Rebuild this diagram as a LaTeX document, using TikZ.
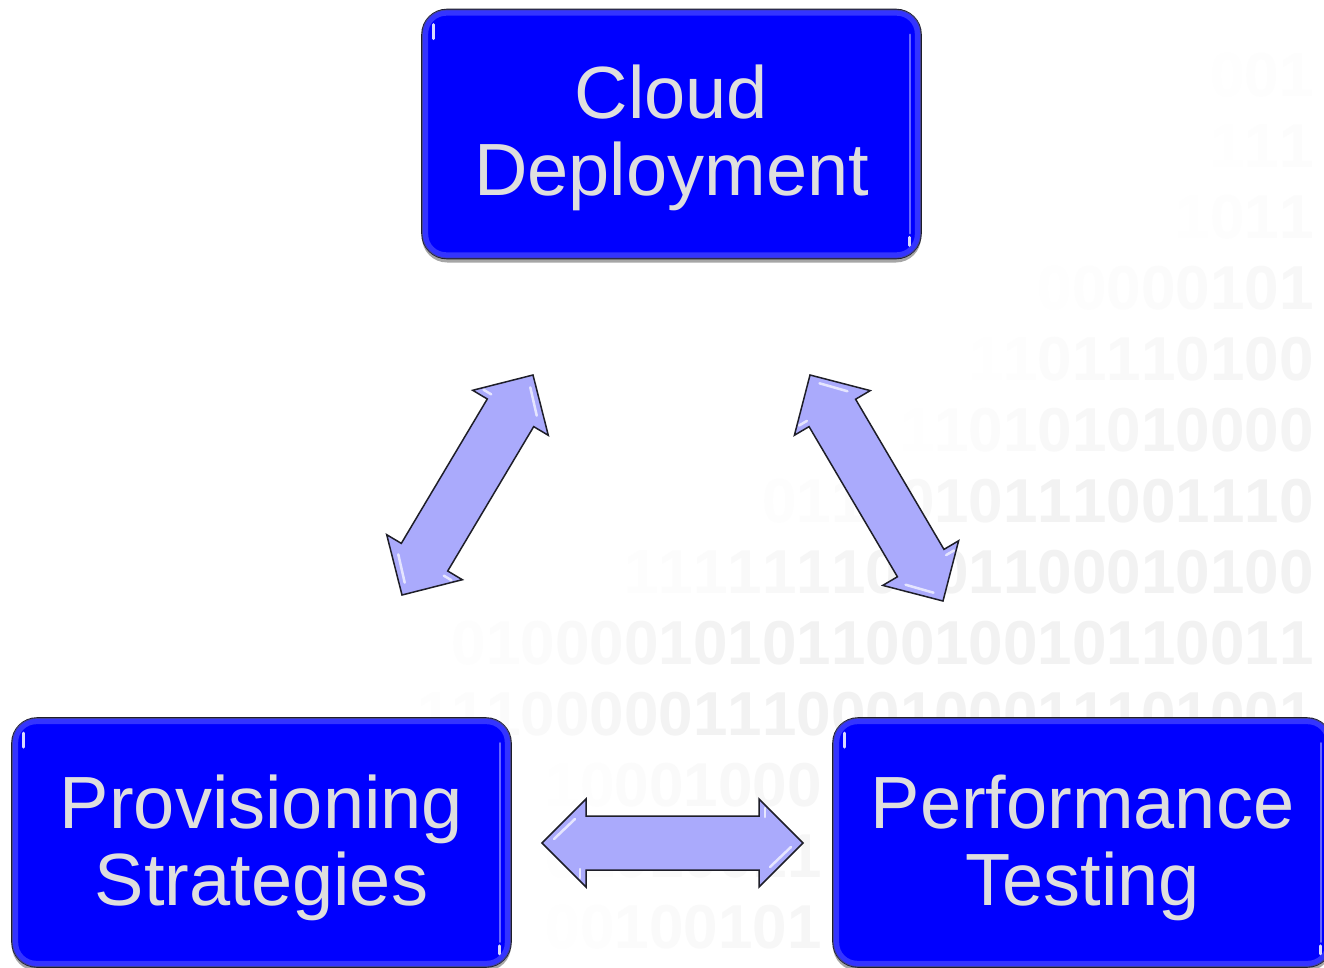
\documentclass[tikz,border=0pt]{standalone}
\usepackage{fontspec}
\setmainfont{Liberation Sans}
\usetikzlibrary{calc,shadows}

\definecolor{boxblue}{RGB}{0,0,255}
\definecolor{bevelblue}{RGB}{95,95,255}
\definecolor{labelgray}{RGB}{222,222,222}
\definecolor{arrowfill}{RGB}{170,170,252}
\definecolor{edgegray}{RGB}{30,30,40}

\tikzset{
  stagebox/.style={rectangle, rounded corners=25pt, fill=boxblue, draw=edgegray,
    line width=1.6pt, minimum width=499pt, minimum height=249pt, inner sep=0pt,
    drop shadow={shadow xshift=0pt, shadow yshift=-4pt, opacity=0.35, fill=black}},
  stagelabel/.style={inner sep=0pt, text=labelgray, align=center,
    font=\fontsize{74}{77}\selectfont},
  bevel/.style={draw=bevelblue, line width=6pt, rounded corners=21pt, opacity=0.55},
  gloss/.style={draw=white, line width=3pt, line cap=round, opacity=0.85},
  softgloss/.style={draw=white, line width=2.5pt, line cap=round, opacity=0.4},
  blockarrow/.style={fill=arrowfill, draw=edgegray, line width=1.5pt, line join=miter},
  arrowgloss/.style={draw=white, line width=2.5pt, line cap=round, opacity=0.7},
  binrow/.style={inner sep=0pt, anchor=east, font=\fontsize{62}{62}\selectfont\bfseries},
}

% a row of #1 binary digits whose grey deepens from left to right up to black!#2
\newcommand\binrow[2]{%
  \foreach \k in {1,...,#1}{%
    \pgfmathtruncatemacro\dg{random(0,1)}%
    \pgfmathsetmacro\lv{#2*min(1,\k*35/300)}%
    \textcolor{black!\lv}{\dg}}}

% glossy bevel and highlights of a stage box
\newcommand\boxgloss[1]{%
  \draw[bevel] ([shift={(4,4)}]#1.north west) rectangle ([shift={(-4,-4)}]#1.south east);
  \draw[gloss] ([shift={(12,16)}]#1.north west) -- ([shift={(12,30)}]#1.north west);
  \draw[softgloss] ([shift={(-12,26)}]#1.north east) -- ([shift={(-12,-26)}]#1.south east);
  \draw[gloss] ([shift={(-12,-22)}]#1.south east) -- ([shift={(-12,-14)}]#1.south east);
}

% highlights on an arrow head (tip #1, pointing away from #2)
\newcommand\headgloss[2]{%
  \draw[arrowgloss] ($($(#1)!12pt!(#2)$)!4pt!90:(#2)$) -- ($($(#1)!33pt!(#2)$)!24pt!90:(#2)$);
  \draw[arrowgloss] ($($(#1)!38pt!(#2)$)!26pt!-90:(#2)$) -- ($($(#1)!38pt!(#2)$)!35pt!-90:(#2)$);
}

% double-headed block arrow between two named points (#3: prefix for helper points)
\newcommand\dblarrow[3]{%
  \coordinate (#3h1) at ($(#1)!44pt!(#2)$);
  \coordinate (#3h2) at ($(#2)!44pt!(#1)$);
  \draw[blockarrow] (#1)
    -- ($(#3h1)!44pt!90:(#2)$) -- ($(#3h1)!27pt!90:(#2)$)
    -- ($(#3h2)!27pt!90:(#2)$) -- ($(#3h2)!44pt!90:(#2)$)
    -- (#2)
    -- ($(#3h2)!44pt!-90:(#2)$) -- ($(#3h2)!27pt!-90:(#2)$)
    -- ($(#3h1)!27pt!-90:(#2)$) -- ($(#3h1)!44pt!-90:(#2)$)
    -- cycle;
  \headgloss{#1}{#2}
  \headgloss{#2}{#1}
}

\begin{document}
\begin{tikzpicture}[x=1pt, y=-1pt]
  \useasboundingbox (0,0) rectangle (1324,968);
  \fill[white] (0,0) rectangle (1324,968);

  % faint binary texture on the right, fading out towards the left
  \pgfmathsetseed{42}
  \foreach \yy/\xe/\n/\b in {75/1314/3/2.5, 146/1314/3/3, 217/1314/4/3,
      288/1314/8/3.5, 359/1314/10/4, 430/1314/12/4.5, 501/1314/16/5,
      572/1314/20/5, 643/1314/25/5, 714/1314/26/5,
      785/822/8/4, 856/822/8/4, 927/822/8/4} {
    \node[binrow] (bin-\yy) at (\xe,\yy) {\binrow{\n}{\b}};
  }

  % stages
  \node[stagebox] (cloud) at (671.5,134) {};
  \node[stagebox] (prov) at (261.5,842.5) {};
  \node[stagebox] (perf) at (1082.5,842.5) {};
  \boxgloss{cloud}
  \boxgloss{prov}
  \boxgloss{perf}
  \node[stagelabel] (cloud-text) at ([shift={(0,4)}]cloud.center) {Cloud\\Deployment};
  \node[stagelabel] (prov-text) at ([shift={(0,5)}]prov.center) {Provisioning\\Strategies};
  \node[stagelabel] (perf-text) at ([shift={(0,5)}]perf.center) {Performance\\Testing};

  % links between stages
  \coordinate (cp-a) at (402,595);
  \coordinate (cp-b) at (533,375);
  \coordinate (ct-a) at (810,375);
  \coordinate (ct-b) at (943,601);
  \coordinate (pt-a) at (542,843);
  \coordinate (pt-b) at (803,843);
  \dblarrow{cp-a}{cp-b}{cp}
  \dblarrow{ct-a}{ct-b}{ct}
  \dblarrow{pt-a}{pt-b}{pt}
\end{tikzpicture}
\end{document}
